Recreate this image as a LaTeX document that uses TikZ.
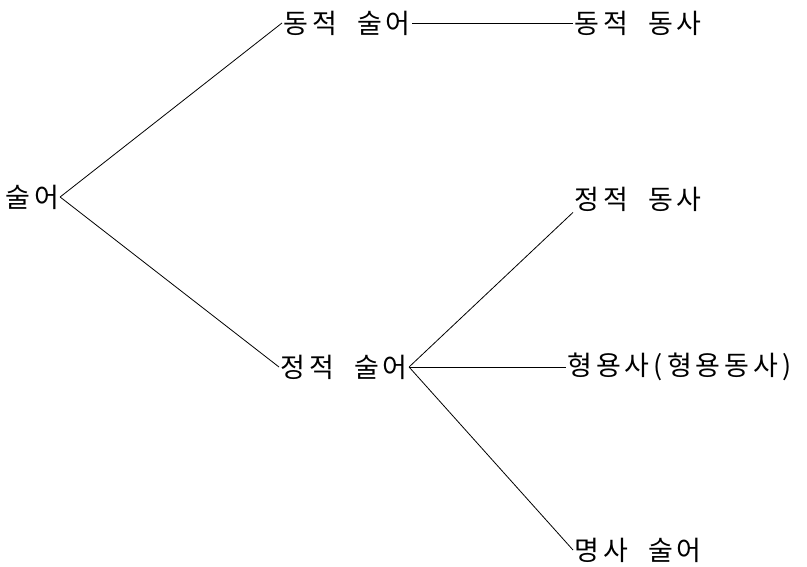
\documentclass[tikz,border=0pt]{standalone}
\usepackage{fontspec}
\newfontfamily\krfont[LetterSpace=15, WordSpace=2]{Noto Sans CJK KR}
\usepackage{tikz}

\begin{document}
\begin{tikzpicture}[
    x=1pt, y=-1pt,
    term/.style={anchor=west, inner sep=1pt, font=\krfont\fontsize{27}{32}\selectfont},
    branch/.style={draw=black, line width=0.8pt}
]
\useasboundingbox (0,0) rectangle (807,567);
% root and first split
\node[term] (pred)     at (4,197)   {술어};
\node[term] (dynpred)  at (282,23)  {동적 술어};
\node[term] (statpred) at (279,367) {정적 술어};
% leaves
\node[term] (dynverb)  at (573,23)  {동적 동사};
\node[term] (statverb) at (573,199) {정적 동사};
\node[term] (adj)      at (566,367) {형용사(형용동사)};
\node[term] (nounpred) at (573,550) {명사 술어};
% branches
\draw[branch] (pred.east) -- (dynpred.west);
\draw[branch] (pred.east) -- (statpred.west);
\draw[branch] (dynpred.east) -- (dynverb.west);
\draw[branch] (statpred.east) -- (statverb.south west);
\draw[branch] (statpred.east) -- (statpred.east -| adj.west);
\draw[branch] (statpred.east) -- (nounpred.west);
\end{tikzpicture}
\end{document}
